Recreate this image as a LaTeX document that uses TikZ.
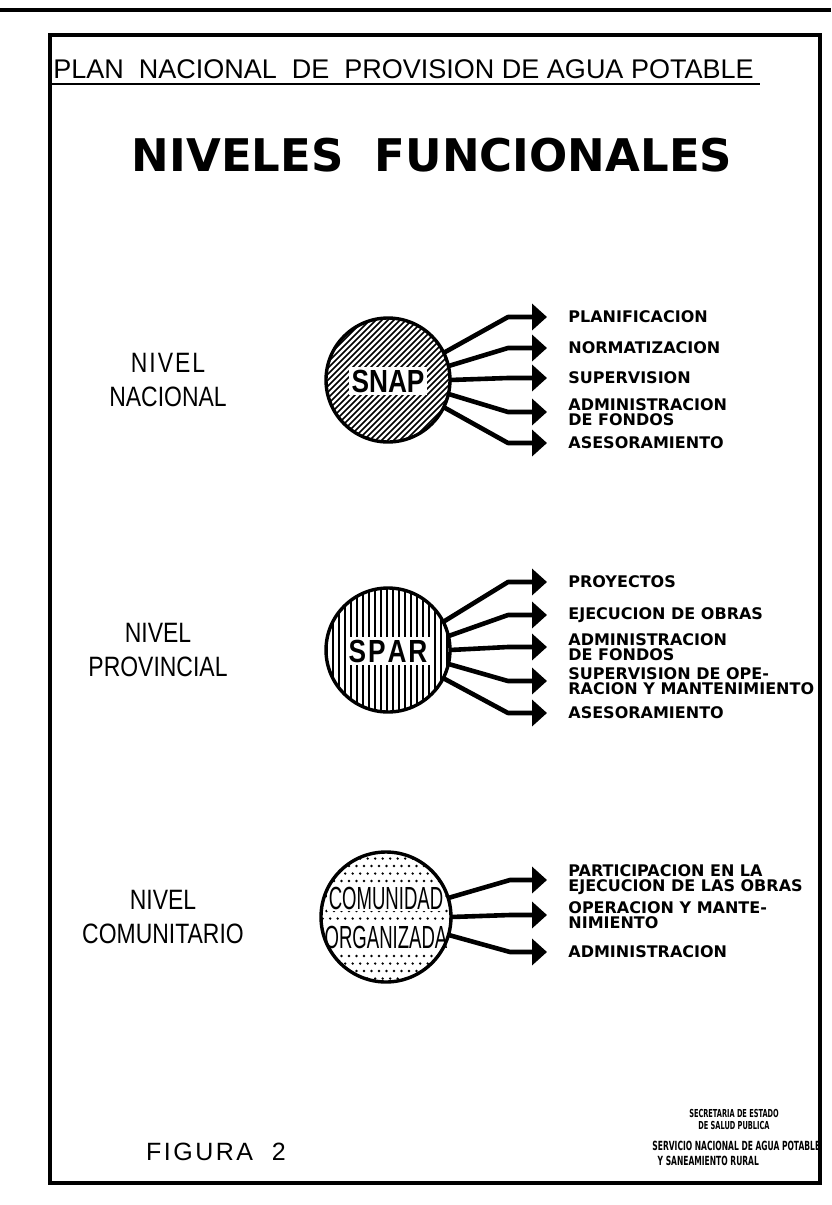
\documentclass[tikz,border=0pt]{standalone}
\usepackage{fontspec}
\usetikzlibrary{arrows.meta}
\newfontfamily\handfont{Liberation Sans}
\newfontfamily\levelfont{Liberation Sans}[FakeStretch=0.82]
\newfontfamily\narrowfont{Liberation Sans}[FakeStretch=0.58]
\newfontfamily\itemfont{DejaVu Sans}
\newfontfamily\footfont{DejaVu Sans}[FakeStretch=0.6]
\newfontfamily\figfont{Liberation Sans}[LetterSpace=10]

\tikzset{
  ring/.style={circle, draw, line width=1.7pt, minimum size=62pt, inner sep=0pt, outer sep=0pt},
  hatch/.style={line width=0.8pt},
  arr/.style={line width=2.3pt, line join=round, -{Triangle[length=7.5pt,width=13pt]}},
  item/.style={anchor=west, align=left, inner sep=0pt, font=\itemfont\bfseries\fontsize{8}{7.6}\selectfont},
  lvl/.style={align=center, inner sep=0pt, font=\levelfont\fontsize{14}{17}\selectfont},
  intext/.style={fill=white, inner sep=1.2pt, font=\levelfont\bfseries\fontsize{16}{16}\selectfont},
  foot/.style={align=center, inner sep=0pt, font=\footfont\bfseries\fontsize{5.5}{6}\selectfont}
}

\begin{document}
\begin{tikzpicture}[x=0.5pt, y=-0.5pt]
  \useasboundingbox (0,0) rectangle (831,1205);
  % frame and header
  \draw[line width=1.6pt] (0,10) -- (831,10);
  \draw[line width=1.6pt] (50,35) rectangle (820,1183);
  \node[anchor=base west, inner sep=0pt, font=\handfont\fontsize{13.5}{13.5}\selectfont] (plan) at (53,78)
    {PLAN\ \ NACIONAL\ \ DE\ \ PROVISION DE AGUA POTABLE};
  \draw[line width=1.3pt] (50,84) -- ([xshift=3pt]plan.base east |- 0,84);
  \node[inner sep=0pt, font=\itemfont\bfseries\fontsize{22.5}{22.5}\selectfont] (niv) at (432,155) {NIVELES\ \ FUNCIONALES};

  % nivel nacional
  \begin{scope}
    \clip (388,380) circle[radius=62];
    \foreach \d in {-90,-84,...,90}
      \draw[hatch] ({\d+318},450) -- ({\d+458},310);
  \end{scope}
  \node[intext] (snaptxt) at (388,381) {SNAP};
  \node[ring] (snap) at (388,380) {};
  \node[lvl] (nac) at (168,380) {N\kern1pt I\kern1pt V\kern1pt E\kern1pt L\\NACIONAL};
  \node[item] (nac1) at (568,317) {PLANIFICACION};
  \node[item] (nac2) at (568,348) {NORMATIZACION};
  \node[item] (nac3) at (568,378) {SUPERVISION};
  \node[item] (nac4) at (568,412) {ADMINISTRACION\\DE FONDOS};
  \node[item] (nac5) at (568,443) {ASESORAMIENTO};
  \foreach \a/\n in {26/1,13/2,0/3,-13/4,-26/5}
    \draw[arr] (snap.\a) -- ([xshift=-30pt]nac\n.west) -- ([xshift=-10.5pt]nac\n.west);

  % nivel provincial
  \begin{scope}
    \clip (388,650) circle[radius=62];
    \foreach \x in {327,333,...,453}
      \draw[hatch] (\x,585) -- (\x,715);
  \end{scope}
  \node[intext] (spartxt) at (388,651) {S\kern1pt P\kern1pt A\kern1pt R};
  \node[ring] (spar) at (388,650) {};
  \node[lvl] (prov) at (158,650) {NIVEL\\PROVINCIAL};
  \node[item] (prov1) at (568,582) {PROYECTOS};
  \node[item] (prov2) at (568,615) {EJECUCION DE OBRAS};
  \node[item] (prov3) at (568,647) {ADMINISTRACION\\DE FONDOS};
  \node[item] (prov4) at (568,681) {SUPERVISION DE OPE-\\RACION Y MANTENIMIENTO};
  \node[item] (prov5) at (568,713) {ASESORAMIENTO};
  \foreach \a/\n in {27/1,13/2,0/3,-13/4,-27/5}
    \draw[arr] (spar.\a) -- ([xshift=-30pt]prov\n.west) -- ([xshift=-10.5pt]prov\n.west);

  % nivel comunitario
  \begin{scope}
    \clip (386,917) circle[radius=64];
    \foreach \r in {0,...,18}
      \foreach \c in {0,...,18}
        \fill ({319+\c*7.5+mod(\r,2)*3.7},{851+\r*7.5}) circle[radius=1.3];
  \end{scope}
  \node[intext, font=\narrowfont\fontsize{16}{16}\selectfont, inner sep=1pt] (comtxt) at (386,898) {COMUNIDAD};
  \node[intext, font=\narrowfont\fontsize{16}{16}\selectfont, inner sep=1pt] (orgtxt) at (386,937) {ORGANIZADA};
  \node[ring, minimum size=65pt] (cmd) at (386,917) {};
  \node[lvl] (com) at (163,917) {NIVEL\\COMUNITARIO};
  \node[item] (com1) at (568,880) {PARTICIPACION EN LA\\EJECUCION DE LAS OBRAS};
  \node[item] (com2) at (568,915) {OPERACION Y MANTE-\\NIMIENTO};
  \node[item] (com3) at (568,952) {ADMINISTRACION};
  \foreach \a/\n in {17/1,0/2,-16/3}
    \draw[arr] (cmd.\a) -- ([xshift=-29pt]com\n.west) -- ([xshift=-10.5pt]com\n.west);

  % pie
  \node[inner sep=0pt, font=\figfont\fontsize{12.5}{12.5}\selectfont] (fig) at (216,1152) {FIGURA\ \ 2};
  \node[foot] (sec) at (734,1119) {SECRETARIA DE ESTADO\\DE SALUD PUBLICA};
  \node[foot, align=left, anchor=west, font=\footfont\bfseries\fontsize{6.3}{7.5}\selectfont] (serv) at (652,1153)
    {SERVICIO NACIONAL DE AGUA POTABLE\\\ \ Y SANEAMIENTO RURAL};
\end{tikzpicture}
\end{document}
